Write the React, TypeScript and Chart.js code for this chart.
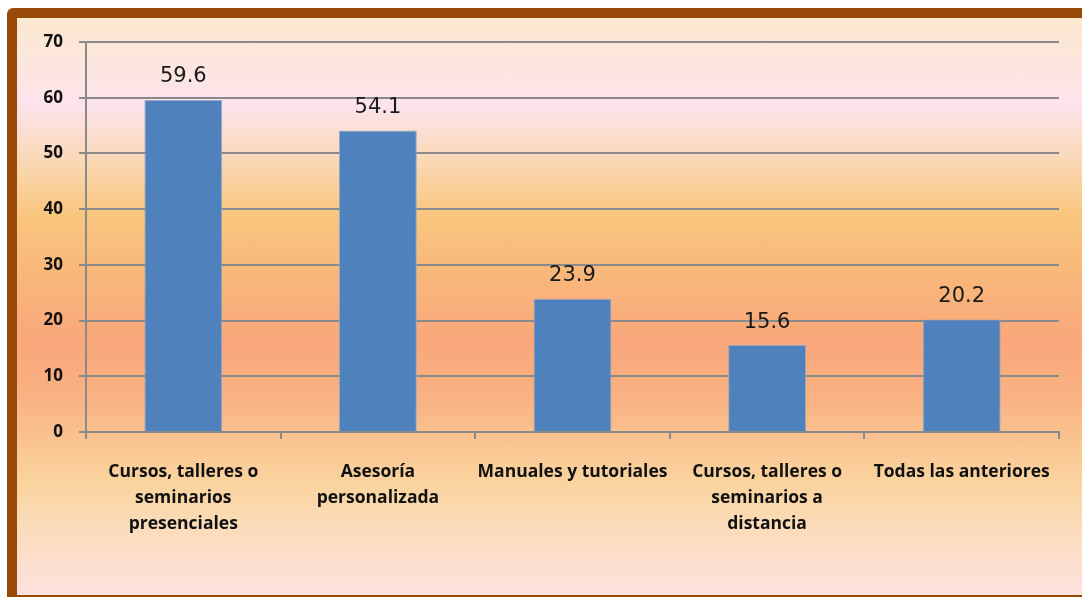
import { useEffect, useRef } from "react";
import { Chart, registerables } from "chart.js";

Chart.register(...registerables);

// Category labels, already split into the lines they are shown on
const categories: string[][] = [
  ["Cursos, talleres o", "seminarios", "presenciales"],
  ["Asesoría", "personalizada"],
  ["Manuales y tutoriales"],
  ["Cursos, talleres o", "seminarios a", "distancia"],
  ["Todas las anteriores"],
];

const values: number[] = [59.6, 54.1, 23.9, 15.6, 20.2];

const yMin = 0;
const yMax = 70;
const yStep = 10;

const BAR_COLOR = "#4F81BD";
const GRID_COLOR = "#8a8a8a";
const TEXT_COLOR = "#111111";
const AXIS_FONT = "'Open Sans', Lato, sans-serif";

// Writes each bar's value above it
const valueLabels = {
  id: "valueLabels",
  afterDatasetsDraw(chart: any) {
    const { ctx } = chart;
    const meta = chart.getDatasetMeta(0);
    const data = chart.data.datasets[0].data as number[];
    ctx.save();
    ctx.font = '21px "DejaVu Sans", Verdana, sans-serif';
    ctx.fillStyle = "#1a1a1a";
    ctx.textAlign = "center";
    ctx.textBaseline = "middle";
    meta.data.forEach((bar: any, i: number) => {
      ctx.fillText(data[i].toFixed(1), bar.x, bar.y - 23);
    });
    ctx.restore();
  },
};

export default function App() {
  const canvasRef = useRef<HTMLCanvasElement | null>(null);

  useEffect(() => {
    if (!canvasRef.current) return;
    const chart = new Chart(canvasRef.current, {
      type: "bar",
      data: {
        labels: categories,
        datasets: [
          {
            data: values,
            backgroundColor: BAR_COLOR,
            borderColor: "rgba(140,165,200,0.9)",
            borderWidth: 1,
            categoryPercentage: 1,
            barPercentage: 0.4,
          },
        ],
      },
      options: {
        animation: false,
        responsive: false,
        maintainAspectRatio: false,
        layout: { padding: { left: 0, top: 42, right: 23, bottom: 0 } },
        plugins: {
          legend: { display: false },
          tooltip: { enabled: false },
          title: { display: false },
        },
        scales: {
          x: {
            offset: true,
            afterFit(scale: any) {
              scale.height = 165;
            },
            grid: {
              offset: true,
              drawOnChartArea: false,
              drawTicks: true,
              tickLength: 7,
              color: GRID_COLOR,
              lineWidth: 2,
            },
            border: { display: true, color: GRID_COLOR, width: 2 },
            ticks: {
              autoSkip: false,
              maxRotation: 0,
              minRotation: 0,
              padding: 20,
              color: TEXT_COLOR,
              font: { family: AXIS_FONT, size: 17.5, weight: "bold", lineHeight: "26px" as any },
            },
          },
          y: {
            min: yMin,
            max: yMax,
            afterFit(scale: any) {
              scale.width = 86;
            },
            grid: {
              color: GRID_COLOR,
              lineWidth: 2,
              drawTicks: true,
              tickLength: 7,
            },
            border: { display: true, color: GRID_COLOR, width: 2 },
            ticks: {
              stepSize: yStep,
              padding: 16,
              color: TEXT_COLOR,
              font: { family: AXIS_FONT, size: 17, weight: "bold" },
            },
          },
        },
      },
      plugins: [valueLabels],
    });
    return () => chart.destroy();
  }, []);

  return (
    <div
      style={{
        position: "fixed",
        left: 0,
        top: 0,
        width: 1082,
        height: 597,
        overflow: "hidden",
        background: "#ffffff",
      }}
    >
      <div
        style={{
          position: "absolute",
          left: 7,
          top: 8,
          width: 1120,
          height: 577,
          border: "10px solid #9A4A08",
          borderRadius: 6,
          background:
            "linear-gradient(to bottom, #FBE8CF 0%, #FCE6DE 8%, #FDE3EC 15%, #FAD8B4 25%, #F9C67E 34%, #F8B87A 44%, #F9A77B 56%, #F9B283 66%, #FAC894 75%, #FAD49F 81%, #FBDCBA 88%, #FDE1DE 100%)",
        }}
      />
      <canvas
        ref={canvasRef}
        width={1082}
        height={597}
        style={{ position: "absolute", left: 0, top: 0, width: 1082, height: 597 }}
      />
    </div>
  );
}
